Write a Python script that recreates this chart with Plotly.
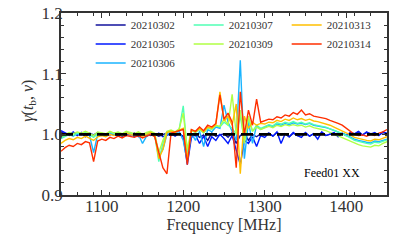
import plotly.graph_objects as go

freq = [1050 + 5 * i for i in range(81)]

dates = ["20210302", "20210305", "20210306", "20210307", "20210309", "20210313", "20210314"]
colors = ["#12129c", "#0018ff", "#1ab4ff", "#50ffb4", "#b0ff45", "#ffbf00", "#ff2f00"]

g0302 = [1.004, 1.001, 0.998, 1.003, 0.999, 1.002, 0.997, 1.001, 0.998, 1.002,
         1.000, 0.998, 1.002, 0.999, 1.001, 0.997, 1.000, 0.999, 1.002, 0.996,
         0.999, 1.001, 0.998, 1.000, 0.997, 0.999, 1.002, 0.998, 1.001, 1.000,
         0.997, 0.960, 0.998, 1.001, 0.995, 0.999, 0.990, 1.002, 0.997, 0.999,
         1.001, 0.995, 1.003, 0.985, 0.998, 1.002, 0.990, 1.000, 0.996, 1.001,
         0.999, 1.002, 0.997, 1.003, 0.999, 1.001, 0.996, 1.002, 0.998, 1.000,
         1.002, 0.997, 1.001, 0.999, 1.003, 0.998, 1.000, 1.002, 0.997, 1.001,
         0.999, 1.002, 1.000, 1.004, 0.999, 1.003, 1.001, 1.002, 0.999, 1.003,
         1.001]
g0305 = [1.006, 1.003, 0.999, 1.004, 0.998, 1.003, 0.996, 1.002, 0.999, 1.003,
         0.998, 1.001, 0.999, 1.002, 0.997, 1.000, 0.998, 1.001, 0.996, 0.999,
         1.001, 0.997, 1.000, 0.998, 1.002, 0.996, 0.999, 1.001, 0.997, 1.002,
         0.996, 0.950, 0.995, 0.999, 0.985, 0.997, 0.980, 0.996, 0.990, 1.000,
         0.993, 0.985, 0.998, 0.975, 0.950, 0.990, 0.985, 0.996, 0.980, 0.998,
         0.995, 1.002, 0.997, 1.004, 0.985, 1.001, 0.996, 1.003, 0.998, 0.995,
         1.003, 0.997, 1.001, 0.992, 1.004, 0.998, 1.001, 1.003, 0.996, 1.002,
         0.998, 1.003, 1.001, 1.005, 0.999, 1.004, 1.000, 1.003, 0.998, 1.004,
         1.002]
g0306 = [0.995, 0.998, 1.000, 0.997, 1.001, 0.999, 1.002, 0.998, 0.970, 1.000,
         1.001, 0.998, 1.002, 1.000, 1.003, 0.999, 1.002, 1.001, 0.998, 1.000,
         0.985, 0.997, 1.002, 0.999, 0.965, 0.975, 1.000, 1.004, 1.002, 1.005,
         0.990, 0.955, 1.002, 0.990, 1.005, 0.980, 1.008, 1.004, 1.012, 1.010,
         1.048, 1.020, 1.005, 0.990, 1.122, 0.960, 1.020, 0.985, 1.015, 1.008,
         1.012, 1.015, 1.013, 1.017, 1.015, 1.018, 1.016, 1.019, 1.017, 1.018,
         1.016, 1.018, 1.015, 1.014, 1.012, 1.011, 1.009, 1.006, 1.004, 1.001,
         0.999, 0.995, 0.992, 0.990, 0.988, 0.987, 0.986, 0.989, 0.988, 0.990,
         0.992]
g0307 = [0.993, 0.997, 1.000, 0.998, 1.002, 1.000, 1.003, 0.999, 0.995, 1.001,
         1.002, 1.000, 1.004, 1.001, 1.003, 1.000, 1.004, 1.002, 1.000, 1.003,
         0.998, 1.001, 1.004, 1.000, 0.955, 0.985, 1.004, 1.006, 1.003, 1.008,
         1.047, 0.970, 1.006, 1.003, 1.008, 1.002, 1.010, 1.008, 1.014, 1.012,
         1.020, 1.015, 1.010, 1.000, 1.030, 0.990, 1.025, 1.005, 1.015, 1.010,
         1.013, 1.016, 1.014, 1.019, 1.017, 1.020, 1.018, 1.021, 1.018, 1.020,
         1.017, 1.019, 1.016, 1.015, 1.013, 1.012, 1.009, 1.007, 1.004, 1.001,
         0.998, 0.994, 0.990, 0.988, 0.986, 0.985, 0.984, 0.987, 0.986, 0.989,
         0.991]
g0309 = [0.996, 1.000, 1.003, 1.001, 1.004, 1.002, 1.005, 1.002, 0.998, 1.004,
         1.003, 1.001, 1.005, 1.002, 1.004, 1.001, 1.005, 1.003, 1.001, 1.004,
         1.000, 1.003, 1.005, 1.002, 0.970, 0.990, 1.005, 1.007, 1.004, 1.009,
         1.035, 0.975, 1.007, 1.004, 1.009, 1.003, 1.011, 1.009, 1.015, 1.013,
         1.025, 1.015, 1.066, 1.000, 1.040, 0.985, 1.030, 1.005, 1.012, 1.008,
         1.010, 1.013, 1.011, 1.015, 1.013, 1.016, 1.014, 1.016, 1.014, 1.015,
         1.012, 1.014, 1.011, 1.010, 1.008, 1.006, 1.003, 1.000, 0.997, 0.994,
         0.991, 0.988, 0.985, 0.983, 0.981, 0.980, 0.979, 0.982, 0.981, 0.985,
         0.988]
g0313 = [0.985, 0.990, 0.993, 0.991, 0.995, 0.993, 0.997, 0.994, 0.990, 0.996,
         0.998, 0.996, 1.000, 0.998, 1.001, 0.998, 1.002, 1.000, 0.998, 1.001,
         0.997, 1.000, 1.003, 0.999, 0.960, 0.975, 1.003, 1.005, 1.003, 1.007,
         1.010, 0.960, 1.007, 1.004, 1.010, 1.004, 1.012, 1.010, 1.016, 1.070,
         1.022, 1.030, 1.015, 1.050, 0.935, 1.030, 1.010, 1.020, 1.015, 1.018,
         1.017, 1.020, 1.019, 1.023, 1.021, 1.025, 1.023, 1.027, 1.024, 1.026,
         1.023, 1.025, 1.022, 1.021, 1.019, 1.018, 1.015, 1.012, 1.009, 1.006,
         1.003, 0.999, 0.995, 0.993, 0.991, 0.990, 0.989, 0.992, 0.991, 0.994,
         0.996]
g0314 = [0.972, 0.978, 0.982, 0.980, 0.985, 0.983, 0.988, 0.986, 0.955, 0.989,
         0.992, 0.990, 0.995, 0.993, 0.997, 0.994, 0.998, 0.996, 0.995, 0.998,
         0.994, 0.997, 1.000, 0.996, 0.970, 0.945, 0.935, 1.002, 1.004, 1.006,
         1.008, 0.950, 1.008, 1.005, 1.012, 1.006, 1.015, 1.012, 1.018, 1.065,
         1.025, 1.035, 1.020, 0.945, 1.070, 1.000, 1.040, 1.015, 1.058, 1.020,
         1.022, 1.025, 1.024, 1.029, 1.027, 1.032, 1.030, 1.036, 1.033, 1.040,
         1.032, 1.034, 1.030, 1.029, 1.027, 1.026, 1.023, 1.021, 1.018, 1.015,
         1.010, 1.004, 1.000, 0.998, 0.999, 0.997, 1.000, 0.998, 1.002, 1.004,
         1.008]

series = [g0302, g0305, g0306, g0307, g0309, g0313, g0314]
ref_level = [1.0, 1.0]
ref_x = [1050, 1450]

FONT = "Liberation Serif"
fig = go.Figure()

# legend fills row by row; ranks mimic a column-first 3-column layout
legend_rank = {0: 0, 3: 1, 5: 2, 1: 3, 4: 4, 6: 5, 2: 6}
for i, (d, c, ys) in enumerate(zip(dates, colors, series)):
    fig.add_trace(go.Scatter(x=freq, y=ys, mode="lines", name=d,
                             line=dict(color=c, width=1.4),
                             legendrank=legend_rank[i] + 1))

fig.add_trace(go.Scatter(x=ref_x, y=ref_level, mode="lines", showlegend=False,
                         line=dict(color="black", width=2.6, dash="12px,6px")))

axis_common = dict(
    showline=True, linecolor="#333333", linewidth=1.5, mirror="allticks",
    ticks="inside", ticklen=5, tickwidth=1.2, tickcolor="#333333",
    showgrid=False, zeroline=False, automargin=False,
    tickfont=dict(family=FONT, size=17, color="#333333"),
)

fig.update_xaxes(range=[1050, 1450], tickvals=[1100, 1200, 1300, 1400],
                 minor=dict(dtick=20, tick0=1050, ticks="inside", ticklen=3,
                            tickwidth=1, tickcolor="#333333"),
                 ticklabelstandoff=-5,
                 title=dict(text="Frequency [MHz]", font=dict(family=FONT, size=16, color="#333333"),
                            standoff=0),
                 **axis_common)
fig.update_yaxes(range=[0.9, 1.2], tickvals=[0.9, 1.0, 1.1, 1.2],
                 ticktext=["0.9", "1.0", "1.1", "1.2"],
                 minor=dict(dtick=0.02, tick0=0.9, ticks="inside", ticklen=3,
                            tickwidth=1, tickcolor="#333333"),
                 ticklabelstandoff=-7,
                 **axis_common)

fig.add_annotation(text="<i>γ</i>(<i>t</i><sub>b</sub>, <i>ν</i>)",
                   xref="paper", yref="paper", x=-0.1, y=0.52, textangle=-90,
                   xanchor="center", yanchor="middle", showarrow=False,
                   font=dict(family=FONT, size=16, color="#333333"))

fig.add_annotation(text="Feed01 XX", xref="paper", yref="paper", x=0.83, y=0.12,
                   xanchor="center", yanchor="middle",
                   showarrow=False, font=dict(family=FONT, size=12, color="black"))

fig.update_layout(
    width=407, height=244,
    margin=dict(l=61, r=20, t=12, b=49),
    paper_bgcolor="white", plot_bgcolor="white",
    showlegend=True,
    legend=dict(orientation="h", x=0.091, y=1.008, xanchor="left", yanchor="top",
                entrywidth=53, bgcolor="rgba(0,0,0,0)", borderwidth=0,
                font=dict(family=FONT, size=11, color="#333333"),
                traceorder="normal"),
)

fig.write_html("out.html", config={"displayModeBar": False},
               post_script="document.body.style.margin='0';")
